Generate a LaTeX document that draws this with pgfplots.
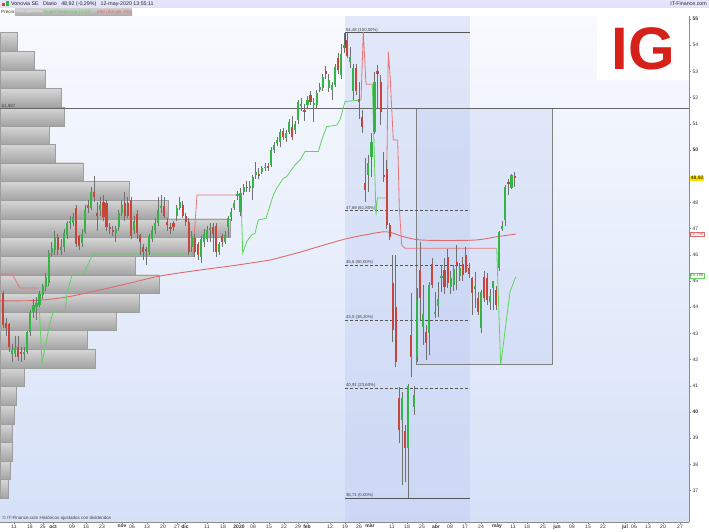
\documentclass[border=0pt]{standalone}
\usepackage{pgfplots}
\pgfplotsset{compat=1.18}
\usepackage{pgfplotstable}
\usepackage{fontspec}
\setmainfont{Liberation Sans}

\definecolor{bgtop}{HTML}{F8FAFE}
\definecolor{bgbot}{HTML}{D6E1F8}
\definecolor{upc}{HTML}{34B446}
\definecolor{dnc}{HTML}{C8453C}
\definecolor{wickc}{HTML}{707070}
\definecolor{stg}{HTML}{5ED35E}
\definecolor{str}{HTML}{E87474}
\definecolor{mmc}{HTML}{E06A6A}
\definecolor{igred}{HTML}{D6211A}
\definecolor{fibc}{HTML}{555555}
\definecolor{bandc}{RGB}{185,200,240}
\tikzset{fiblab/.style={anchor=south west, inner sep=0.4pt, font=\fontsize{4.3}{5}\selectfont, text=black!75}}

\pgfplotstableread{
i o h l c
0 44.55 44.6 43.2 43.32
1 43.4 43.6 42.9 43.2
2 43.35 43.4 42.3 42.5
3 42.2 42.6 41.9 42.35
4 42.2 42.9 42.1 42.45
5 42.5 42.9 41.95 42.1
6 42.3 42.5 41.9 42.2
7 42.2 42.5 42.0 42.3
8 42.3 43.1 42.2 43.05
9 43.05 43.9 42.9 43.8
10 43.8 44.3 43.6 44.1
11 44.0 44.4 43.5 44.15
12 44.1 44.6 44.0 44.5
13 44.47 44.9 44.3 44.8
14 44.77 45.3 44.6 45.15
15 44.92 46.2 44.8 46.07
16 46.07 46.5 45.9 46.26
17 46.18 46.9 46.0 46.68
18 46.68 46.8 46.0 46.18
19 46.2 46.6 46.0 46.3
20 46.3 47.0 46.1 46.83
21 46.76 47.3 46.6 47.21
22 47.2 47.5 47.0 47.3
23 47.2 47.6 47.1 47.44
24 47.8 47.9 46.3 46.4
25 46.7 46.75 46.2 46.35
26 46.45 47.0 46.3 46.8
27 46.87 47.9 46.8 47.7
28 47.9 48.1 47.6 47.8
29 47.8 48.6 47.7 48.4
30 48.4 49.0 48.0 48.2
31 47.6 48.0 46.9 47.5
32 47.7 48.2 47.5 47.9
33 48.0 48.3 47.3 47.45
34 47.98 48.1 46.9 47.06
35 47.06 47.2 46.8 47.0
36 46.95 47.1 46.7 46.9
37 46.85 47.1 46.5 47.0
38 47.06 47.7 46.9 47.6
39 47.6 48.1 47.5 47.9
40 47.98 48.4 47.3 47.5
41 47.98 48.2 47.4 47.5
42 48.1 48.2 46.6 46.7
43 46.9 47.5 46.8 47.3
44 47.55 47.7 46.6 46.85
45 46.75 46.8 46.0 46.5
46 46.3 46.4 45.8 46.1
47 46.2 46.3 45.6 46.15
48 46.1 46.8 46.0 46.7
49 46.6 47.1 46.5 46.95
50 46.95 47.4 46.8 47.2
51 47.2 48.2 47.1 47.7
52 47.8 48.3 47.6 47.85
53 47.85 48.2 47.4 47.5
54 47.25 47.4 46.9 47.15
55 47.05 47.2 46.8 47.0
56 47.2 47.3 46.9 47.06
57 47.5 47.9 47.3 47.8
58 47.8 48.2 47.7 48.0
59 47.9 48.05 47.4 47.5
60 47.5 47.6 47.1 47.25
61 47.25 47.4 46.0 46.1
62 46.3 46.9 46.1 46.7
63 46.65 46.8 45.9 46.1
64 46.4 46.5 45.8 46.0
65 45.9 46.7 45.7 46.6
66 46.5 47.0 46.3 46.8
67 46.6 47.1 46.5 46.95
68 46.95 47.2 46.5 47.0
69 47.05 47.2 46.1 46.8
70 47.1 47.2 45.9 46.1
71 46.1 46.5 46.0 46.4
72 46.7 46.8 46.3 46.5
73 46.5 46.9 46.4 46.75
74 47.06 47.5 46.69 47.4
75 47.45 47.8 47.3 47.65
76 47.79 48.1 47.7 47.98
77 48.24 48.45 48.1 48.32
78 47.65 48.55 47.5 48.36
79 48.41 48.7 48.3 48.6
80 48.58 48.8 48.4 48.56
81 48.56 48.8 48.4 48.64
82 48.54 49.05 48.09 48.98
83 49.05 49.55 48.9 49.17
84 49.08 49.3 48.9 49.02
85 49.17 49.4 49.1 49.31
86 49.33 49.5 49.2 49.35
87 49.4 49.5 49.2 49.33
88 49.43 50.1 49.35 50.0
89 50.0 50.3 49.9 50.19
90 50.26 50.5 50.15 50.38
91 50.32 50.8 50.1 50.67
92 50.73 50.85 50.4 50.51
93 50.45 50.75 50.3 50.64
94 50.7 51.2 50.6 51.08
95 50.89 51.3 50.4 50.51
96 50.76 51.1 50.6 50.98
97 51.15 51.9 51.0 51.82
98 51.72 52.0 51.5 51.74
99 51.53 51.75 51.1 51.46
100 51.72 52.05 51.6 51.91
101 52.1 52.25 51.7 51.82
102 51.74 52.0 51.08 51.76
103 51.72 52.3 51.6 52.16
104 52.29 52.55 52.2 52.42
105 52.35 52.9 52.25 52.8
106 53.02 53.2 52.7 52.89
107 52.35 52.9 52.2 52.67
108 52.29 52.6 51.9 52.48
109 52.48 53.3 52.4 53.18
110 53.5 53.7 52.9 53.05
111 52.86 54.05 52.7 53.65
112 53.9 54.48 53.7 54.0
113 54.2 54.45 53.5 53.6
114 53.35 53.94 53.12 53.56
115 52.25 53.3 51.91 53.14
116 53.13 53.3 52.1 52.26
117 51.95 52.6 51.2 51.85
118 51.27 51.53 50.65 50.89
119 48.74 49.7 48.0 48.47
120 49.05 49.81 48.41 49.5
121 49.74 50.65 48.98 50.32
122 50.7 52.99 50.6 52.6
123 53.02 53.24 51.6 52.9
124 52.6 52.86 50.95 51.44
125 49.05 49.94 48.79 48.98
126 49.27 49.6 47.0 47.14
127 47.14 47.2 46.55 46.69
128 44.92 45.99 42.68 43.13
129 44.02 45.99 41.7 41.92
130 40.53 40.97 38.8 39.31
131 39.69 40.78 37.21 40.55
132 39.28 39.5 37.34 38.61
133 38.61 41.05 36.71 41.0
134 42.94 44.54 41.35 42.11
135 40.2 41.0 39.9 40.65
136 42.11 44.73 41.92 44.27
137 45.42 46.5 43.5 44.35
138 43.24 44.85 42.56 43.74
139 43.05 43.32 41.98 42.63
140 43.01 44.97 42.18 44.85
141 45.65 45.88 44.73 44.85
142 43.74 44.59 43.59 43.81
143 44.04 44.97 43.64 44.31
144 45.1 45.6 44.59 45.2
145 45.42 45.88 44.5 44.77
146 45.93 46.22 44.73 44.92
147 44.77 45.4 44.5 45.12
148 44.85 45.6 44.6 45.46
149 45.74 46.37 44.66 45.61
150 45.2 45.7 45.0 45.5
151 45.65 45.9 45.0 45.23
152 45.99 46.31 45.29 45.35
153 45.51 45.7 45.1 45.27
154 45.11 45.16 43.7 44.54
155 44.7 45.35 43.96 44.8
156 44.36 44.59 43.7 43.83
157 43.19 44.66 43.0 44.59
158 45.14 45.4 44.2 44.34
159 45.11 45.3 44.1 44.27
160 44.19 44.7 43.9 44.44
161 44.73 45.0 43.9 44.99
162 44.66 44.8 43.9 44.08
163 45.48 46.9 45.4 46.86
164 46.98 47.3 46.9 47.1
165 47.33 48.65 47.1 48.58
166 48.77 48.9 48.3 48.69
167 48.54 49.1 48.5 49.05
168 49.02 49.15 48.6 48.92
}\candles

\begin{document}
\begin{tikzpicture}
\begin{axis}[
  scale only axis, width=689pt, height=506pt,
  xmin=0, xmax=689, ymin=35.802, ymax=55.1145,
  clip=false,
  axis x line*=bottom, axis y line*=right,
  axis line style={draw=black!45, line width=0.6pt},
  axis background/.style={top color=bgtop, bottom color=bgbot},
  ytick={37,38,...,55},
  yticklabels={37,38,39,\textbf{40},41,42,43,44,45,46,47,48,{},\textbf{50},51,52,53,54,\textbf{55}},
  xtick={14,30,43,53,72,86,102,122,132,147,163,177,185,207,223,239,253,269,284,298,307,330,345,359,370,392,407,422,436,450,465,481,497,513,527,543,557,572,588,603,625,634,648,663,680},
  xticklabels={11,18,25,\textbf{oct},09,16,23,\textbf{nov},06,13,20,27,\textbf{dic},11,18,\textbf{2020},08,15,22,29,\textbf{feb},12,19,26,\textbf{mar},11,18,25,\textbf{abr},08,17,24,\textbf{may},11,18,25,\textbf{jun},08,15,22,\textbf{jul},06,13,20,27},
  tick align=outside, major tick length=2pt,
  tick style={black!45, line width=0.5pt},
  tick label style={font=\fontsize{5}{6}\selectfont, text=black!80},
  xticklabel style={inner sep=1pt},
  yticklabel style={inner sep=1.5pt},
  profbar/.style={xbar, bar width=0.7108, draw=black!38, line width=0.4pt, top color=black!16, bottom color=black!36, forget plot},
]
% fibonacci band
\addplot[fill=bandc, fill opacity=0.35, draw=none, forget plot] coordinates {(345,35.802) (470,35.802) (470,55.1145) (345,55.1145)} -- cycle;
% rectangle
\addplot[fill=bandc, fill opacity=0.3, draw=black!50, line width=0.6pt, forget plot] coordinates {(416,41.83) (552,41.83) (552,51.587) (416,51.587)} -- cycle;
% volume profile
\foreach \p/\w in {37.065/8, 37.776/10, 38.487/12, 39.197/12, 39.908/14, 40.619/16, 41.330/24, 42.041/95, 42.751/87, 43.462/116, 44.173/139, 44.884/159, 45.595/135, 46.306/193, 47.016/230, 47.727/168, 48.438/129, 49.149/83, 49.860/55, 50.570/49, 51.281/64, 51.992/61, 52.703/45, 53.414/34, 54.124/17} {
  \edef\tmp{\noexpand\addplot[profbar] coordinates {(\w,\p)};}\tmp
}
% 51.587 line
\addplot[black!60, line width=0.7pt, forget plot] coordinates {(0,51.587) (689,51.587)};
\node[anchor=south west, inner sep=0.5pt, font=\fontsize{4.5}{5}\selectfont, text=black!75] at (axis cs:1,51.587) {51,587};
% fibonacci lines
\addplot[fibc, line width=0.7pt, forget plot] coordinates {(345,54.48) (470,54.48)};
\addplot[fibc, line width=0.6pt, densely dashed, forget plot] coordinates {(345,47.69) (470,47.69)};
\addplot[fibc, line width=0.6pt, densely dashed, forget plot] coordinates {(345,45.60) (470,45.60)};
\addplot[fibc, line width=0.6pt, densely dashed, forget plot] coordinates {(345,43.50) (470,43.50)};
\addplot[fibc, line width=0.6pt, densely dashed, forget plot] coordinates {(345,40.91) (470,40.91)};
\addplot[fibc, line width=0.7pt, forget plot] coordinates {(345,36.71) (470,36.71)};
\addplot[fibc, line width=0.6pt, forget plot] coordinates {(345,54.48) (345,53.9)};
\node[fiblab] at (axis cs:345.5,54.48) {54,48 (100,00\%)};
\node[fiblab] at (axis cs:345.5,47.69) {47,69 (61,80\%)};
\node[fiblab] at (axis cs:345.5,45.60) {45,6 (50,00\%)};
\node[fiblab] at (axis cs:345.5,43.50) {43,5 (38,20\%)};
\node[fiblab] at (axis cs:345.5,40.91) {40,91 (23,60\%)};
\node[fiblab] at (axis cs:345.5,36.71) {36,71 (0,00\%)};
% MM200
\addplot[mmc, line width=0.9pt, smooth, forget plot] coordinates {(0,44.24) (37,44.26) (67,44.39) (100,44.66) (130,44.92) (160,45.19) (200,45.42) (230,45.57) (260,45.74) (270,45.8) (300,46.1) (320,46.33) (345,46.6) (365,46.76) (386.7,46.88) (403.3,46.69) (423.3,46.56) (473.3,46.56) (496.7,46.69) (515.7,46.79)};
% supertrend
\addplot[str, line width=0.8pt, forget plot] coordinates {(0,45.27) (12,45.27) (20,44.73) (38,44.73)};
\addplot[stg, line width=0.8pt, forget plot] coordinates {(39,44.2) (42,41.87) (50,43.4) (53,43.8) (65,43.85) (67,44.5) (72,45.23) (83,45.23) (93,46.03) (193,46.03)};
\addplot[str, line width=0.8pt, forget plot] coordinates {(193,46.03) (197,48.28) (241,48.28)};
\addplot[stg, line width=0.8pt, forget plot] coordinates {(241,48.28) (242.7,46.06) (246.7,46.5) (251.7,46.76) (255,46.82) (258.3,47.33) (266,47.39) (273.3,48.28) (276.7,48.54) (283.3,48.92) (286.7,48.98) (290,49.17) (295,49.43) (300,49.62) (305,49.94) (318.3,49.94) (321.7,50.38) (326.7,50.89) (336.7,50.95) (340,51.15) (345,51.85) (361,51.91)};
\addplot[str, line width=0.8pt, forget plot] coordinates {(361,51.91) (363.3,54.52) (366,52.51) (372.3,52.51)};
\addplot[stg, line width=0.8pt, forget plot] coordinates {(372.3,52.51) (376,47.52) (377.3,48.17) (385.5,48.17)};
\addplot[str, line width=0.8pt, forget plot] coordinates {(386.5,48.17) (388.3,53.75) (390,52.9) (393.3,50.38) (397.7,50.38) (399.3,47.8) (401.7,46.37) (405,46.25) (496.7,46.25)};
\addplot[stg, line width=0.8pt, forget plot] coordinates {(496.7,46.25) (500.7,41.79) (510,44.59) (515.7,45.16)};
% candles: wicks
\addplot[draw=none, forget plot, error bars/.cd, y dir=both, y explicit, error mark=none,
  error bar style={draw=wickc, line width=0.7pt}]
  table[x expr=3+3.045*\thisrow{i}, y expr=(\thisrow{h}+\thisrow{l})/2, y error expr=(\thisrow{h}-\thisrow{l})/2] {\candles};
% bodies up
\addplot[draw=none, forget plot, restrict expr to domain={\thisrow{c}-\thisrow{o}}{0:100},
  error bars/.cd, y dir=both, y explicit, error mark=none,
  error bar style={draw=upc, line width=2.1pt}]
  table[x expr=3+3.045*\thisrow{i}, y expr=(\thisrow{o}+\thisrow{c})/2, y error expr={max(abs(\thisrow{c}-\thisrow{o})/2,0.03)}] {\candles};
% bodies down
\addplot[draw=none, forget plot, restrict expr to domain={\thisrow{c}-\thisrow{o}}{-100:-0.00001},
  error bars/.cd, y dir=both, y explicit, error mark=none,
  error bar style={draw=dnc, line width=2.1pt}]
  table[x expr=3+3.045*\thisrow{i}, y expr=(\thisrow{o}+\thisrow{c})/2, y error expr={max(abs(\thisrow{c}-\thisrow{o})/2,0.03)}] {\candles};
% IG logo
\fill[white] (axis cs:597,55.1145) rectangle (axis cs:689,52.67);
\node[font=\fontsize{60}{60}\selectfont\bfseries, text=igred, inner sep=0pt] at (axis cs:643,53.85) {IG};
% bottom caption
\node[anchor=south west, inner sep=0.5pt, font=\fontsize{4.5}{5}\selectfont, text=black!75] at (axis cs:2,35.85) {© IT-Finance.com  Históricos ajustados con dividendos};
% right price boxes
\node[anchor=west, fill=yellow!85!orange, inner sep=0.6pt, font=\fontsize{5}{5}\selectfont] at (axis cs:690,48.92) {48,92};
\node[anchor=west, fill=white, draw=mmc, line width=0.3pt, inner sep=0.5pt, text=mmc, font=\fontsize{4.3}{5}\selectfont] at (axis cs:689.5,46.79) {46,766};
\node[anchor=west, fill=white, draw=stg, line width=0.3pt, inner sep=0.5pt, text=stg!70!black, font=\fontsize{4.3}{5}\selectfont] at (axis cs:689.5,45.2) {45,196};
% header
\fill[top color=black!8!blue!10!white, bottom color=black!30!blue!12!white] (axis cs:0,55.725) rectangle (axis cs:709,55.42);
\fill[white] (axis cs:0,55.42) rectangle (axis cs:709,55.1145);
\fill[dnc] (axis cs:1.5,55.50) rectangle (axis cs:4.5,55.60);
\fill[upc] (axis cs:5.5,55.48) rectangle (axis cs:8.5,55.68);
\node[anchor=west, inner sep=0pt, font=\fontsize{5.3}{6}\selectfont, text=black!85] at (axis cs:11,55.575) {Vonovia SE\ \ \ Diario\ \ \ 48,92 (-0,29\%)\ \ \ 12-may-2020 13:55:11};
\node[anchor=east, inner sep=0pt, font=\fontsize{5.3}{6}\selectfont, text=black!85] at (axis cs:707,55.575) {IT-Finance.com};
\node[anchor=west, inner sep=0pt, font=\fontsize{4.6}{5}\selectfont, text=black!80] at (axis cs:1,55.27) {Precio:};
\fill[top color=black!20, bottom color=black!32] (axis cs:15,55.39) rectangle (axis cs:132,55.15);
\node[anchor=west, inner sep=0pt, font=\fontsize{3.6}{4}\selectfont, text=black!8] at (axis cs:16,55.27) {Velas japonesas};
\node[anchor=west, inner sep=0pt, font=\fontsize{4.6}{5}\selectfont, text=stg] at (axis cs:44,55.27) {SuperTendencia (3,10)};
\node[anchor=west, inner sep=0pt, font=\fontsize{4.6}{5}\selectfont, text=mmc] at (axis cs:97,55.27) {MM (Simple 200)};
\end{axis}
\pgfresetboundingbox
\path[use as bounding box] ([shift={(0pt,-10pt)}]current axis.south west) rectangle ([shift={(20pt,16pt)}]current axis.north east);
\end{tikzpicture}
\end{document}
